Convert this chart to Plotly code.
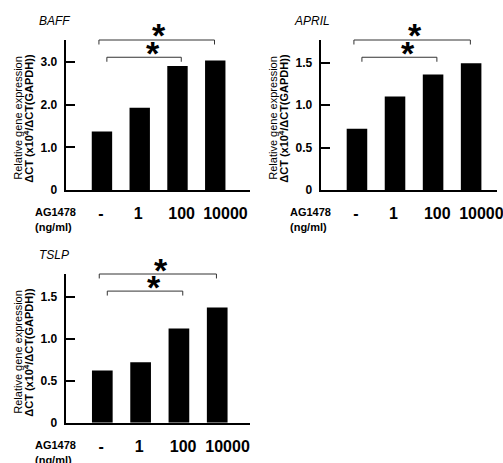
import plotly.graph_objects as go

# ---- data ----
doses = ["-", "1", "100", "10000"]
baff = [1.37, 1.93, 2.91, 3.04]
april = [0.72, 1.10, 1.36, 1.49]
tslp = [0.62, 0.72, 1.12, 1.37]

baff_ticks = [0, 1.0, 2.0, 3.0]
baff_ticktext = ["0", "1.0", "2.0", "3.0"]
half_ticks = [0, 0.5, 1.0, 1.5]
half_ticktext = ["0", "0.5", "1.0", "1.5"]

# significance brackets: (left end, right end, star x, level in axis-domain units)
sig_brackets = [(-0.08, 2.98, 1.52, 1.0), (0.13, 2.1, 1.35, 0.885)]

W, H = 503, 463
FONT = "Arial, Liberation Sans, sans-serif"
# small horizontal label offsets (fraction of bar spacing), as in the original
label_shift = [-0.03, -0.04, 0.11, 0.27]

panels = [
    dict(name="BAFF", vals=baff, tv=baff_ticks, tt=baff_ticktext, yr=3.52,
         xpx=(65.7, 250), ypx=(40, 190), xr=(-0.96, 3.92)),
    dict(name="APRIL", vals=april, tv=half_ticks, tt=half_ticktext, yr=1.765,
         xpx=(320.7, 497), ypx=(40, 190), xr=(-0.953, 3.68)),
    dict(name="TSLP", vals=tslp, tv=half_ticks, tt=half_ticktext, yr=1.77,
         xpx=(65.7, 250), ypx=(274, 422.7), xr=(-0.956, 3.856)),
]

fig = go.Figure()
annotations = []
shapes = []

for i, p in enumerate(panels):
    n = "" if i == 0 else str(i + 1)
    xa, ya = "x" + n, "y" + n
    fig.add_trace(go.Bar(
        x=list(range(len(doses))), y=p["vals"], xaxis=xa, yaxis=ya,
        marker=dict(color="black", line=dict(width=0)), width=0.54,
        showlegend=False, hoverinfo="y"))
    x0, x1 = p["xpx"]
    yt, yb = p["ypx"]
    fig.update_layout(**{
        "xaxis" + n: dict(
            domain=[x0 / W, x1 / W], range=list(p["xr"]), anchor=ya,
            tickvals=[k + s for k, s in enumerate(label_shift)], ticktext=doses,
            tickangle=0, automargin=False, ticklabeloverflow="allow",
            showline=True, linewidth=2, linecolor="black", ticks="",
            showgrid=False, zeroline=False, fixedrange=True,
            tickfont=dict(family=FONT, size=16, color="black", weight="bold"),
            ticklabelstandoff=8),
        "yaxis" + n: dict(
            domain=[1 - yb / H, 1 - yt / H], range=[0, p["yr"]], anchor=xa,
            tickvals=p["tv"], ticktext=p["tt"], automargin=False,
            showline=True, linewidth=2, linecolor="black",
            ticks="inside", ticklen=9, tickwidth=2, tickcolor="black",
            showgrid=False, zeroline=False, fixedrange=True,
            tickfont=dict(family=FONT, size=12, color="black", weight="bold"),
            ticklabelstandoff=4),
    })
    # panel title
    annotations.append(dict(
        text="<i>%s</i>" % p["name"], xref="paper", yref="paper",
        x=(x0 - 29) / W, y=1 - (yt - 19) / H, xanchor="left", yanchor="middle",
        showarrow=False, font=dict(family=FONT, size=12, color="black")))
    # y-axis titles (two lines)
    yc = 1 - (yt + 78) / H
    annotations.append(dict(
        text="Relative gene expression", xref="paper", yref="paper",
        x=(x0 - 48) / W, y=yc, textangle=-90, showarrow=False,
        xanchor="center", yanchor="middle",
        font=dict(family=FONT, size=11, color="black")))
    annotations.append(dict(
        text="<b>ΔCT (x10<sup>4</sup>/ΔCT(GAPDH))</b>", xref="paper", yref="paper",
        x=(x0 - 37) / W, y=yc, textangle=-90, showarrow=False,
        xanchor="center", yanchor="middle",
        font=dict(family=FONT, size=11, color="black")))
    # x-axis label
    annotations.append(dict(
        text="<b>AG1478</b>", xref="paper", yref="paper",
        x=(x0 - 33) / W, y=1 - (yb + 22) / H, xanchor="left", yanchor="middle",
        showarrow=False, font=dict(family=FONT, size=11, color="black")))
    annotations.append(dict(
        text="<b>(ng/ml)</b>", xref="paper", yref="paper",
        x=(x0 - 33) / W, y=1 - (yb + 37) / H, xanchor="left", yanchor="middle",
        showarrow=False, font=dict(family=FONT, size=11, color="black")))
    # significance brackets
    yd = ya + " domain"
    for (xl, xrr, sx, lv) in sig_brackets:
        for (sx0, sy0, sx1, sy1) in [(xl, lv, xrr, lv), (xl, lv, xl, lv - 0.03),
                                     (xrr, lv, xrr, lv - 0.03)]:
            shapes.append(dict(type="line", xref=xa, yref=yd,
                               x0=sx0, y0=sy0, x1=sx1, y1=sy1,
                               line=dict(color="#333", width=1)))
        annotations.append(dict(
            text="<b>*</b>", xref=xa, yref=yd, x=sx,
            y=lv + 0.03, xanchor="center", yanchor="middle", showarrow=False,
            font=dict(family=FONT, size=34, color="black")))

fig.update_layout(
    width=W, height=H, margin=dict(l=0, r=0, t=0, b=0, autoexpand=False),
    paper_bgcolor="white", plot_bgcolor="white",
    annotations=annotations, shapes=shapes, bargap=0.46,
)

fig.write_html("out.html", config={"displayModeBar": False},
               post_script="document.body.style.margin='0';"
                           "document.body.style.overflow='hidden';")
